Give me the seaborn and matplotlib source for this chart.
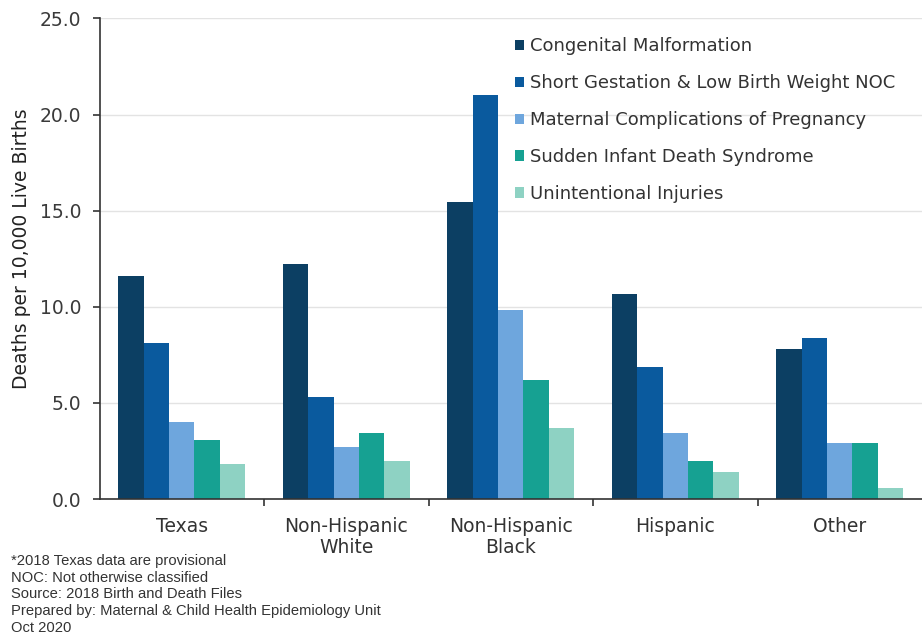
import matplotlib
matplotlib.use("Agg")
import matplotlib.pyplot as plt
import seaborn as sns
import pandas as pd
from matplotlib.ticker import FixedLocator, FormatStrFormatter

groups = ["Texas", "Non-Hispanic\nWhite", "Non-Hispanic\nBlack", "Hispanic", "Other"]
causes = [
    "Congenital Malformation",
    "Short Gestation & Low Birth Weight NOC",
    "Maternal Complications of Pregnancy",
    "Sudden Infant Death Syndrome",
    "Unintentional Injuries",
]
congenital = [11.6, 12.25, 15.45, 10.65, 7.8]
short_gestation = [8.1, 5.3, 21.0, 6.85, 8.4]
maternal = [4.0, 2.7, 9.85, 3.45, 2.9]
sids = [3.1, 3.45, 6.2, 2.0, 2.9]
injuries = [1.8, 2.0, 3.7, 1.4, 0.6]

colors = ["#0c3f63", "#0a5a9e", "#6ea6dd", "#16a192", "#8ed2c3"]

series = [congenital, short_gestation, maternal, sids, injuries]
rows = []
for cause, vals in zip(causes, series):
    for g, v in zip(groups, vals):
        rows.append({"group": g, "cause": cause, "rate": v})
df = pd.DataFrame(rows)

sns.set_theme(style="white")
plt.rcParams["font.family"] = ["DejaVu Sans"]

fig = plt.figure(figsize=(9.22, 6.35), dpi=100)
ax = fig.add_axes([0.108, 0.214, 0.892, 0.757])

sns.barplot(data=df, x="group", y="rate", hue="cause", order=groups,
            hue_order=causes, palette=colors, width=0.77, saturation=1,
            edgecolor="none", ax=ax, legend=True)

ax.set_ylim(0, 25)
ax.set_xlim(-0.5, 4.5)
ax.yaxis.set_major_locator(FixedLocator([0, 5, 10, 15, 20, 25]))
ax.yaxis.set_major_formatter(FormatStrFormatter("%.1f"))
ax.yaxis.grid(True, color="#e3e3e3", linewidth=1)
ax.set_axisbelow(True)

for side in ["top", "right"]:
    ax.spines[side].set_visible(False)
for side in ["left", "bottom"]:
    ax.spines[side].set_color("#333333")
    ax.spines[side].set_linewidth(1.2)

ax.tick_params(axis="y", which="major", left=True, length=5, width=1.2,
               color="#333333", labelsize=13.5, labelcolor="#3a3a3a", pad=8)
ax.tick_params(axis="x", which="major", bottom=False, labelsize=13.5,
               labelcolor="#333333", pad=7)
ax.xaxis.set_minor_locator(FixedLocator([0.5, 1.5, 2.5, 3.5]))
ax.tick_params(axis="x", which="minor", bottom=True, length=5, width=1.2,
               color="#333333", direction="out")
for lbl in ax.get_xticklabels():
    lbl.set_linespacing(1.1)

ax.set_xlabel("")
ax.set_ylabel("Deaths per 10,000 Live Births", fontsize=13.5, color="#222222")
ax.yaxis.set_label_coords(-0.083, 0.52)

leg = ax.legend(loc="upper left", bbox_to_anchor=(0.496, 0.976), frameon=False,
                fontsize=13, handlelength=0.5, handleheight=0.5,
                handletextpad=0.35, labelspacing=1.05, borderaxespad=0)
for t in leg.get_texts():
    t.set_color("#333333")

notes = [
    "*2018 Texas data are provisional",
    "NOC: Not otherwise classified",
    "Source: 2018 Birth and Death Files",
    "Prepared by: Maternal & Child Health Epidemiology Unit",
    "Oct 2020",
]
fig.text(0.012, 0.0, "\n".join(notes), ha="left", va="bottom",
         fontsize=10.6, family=["Liberation Sans"], color="#333333",
         linespacing=1.25)

fig.savefig("out.png", dpi=100, facecolor="white")
